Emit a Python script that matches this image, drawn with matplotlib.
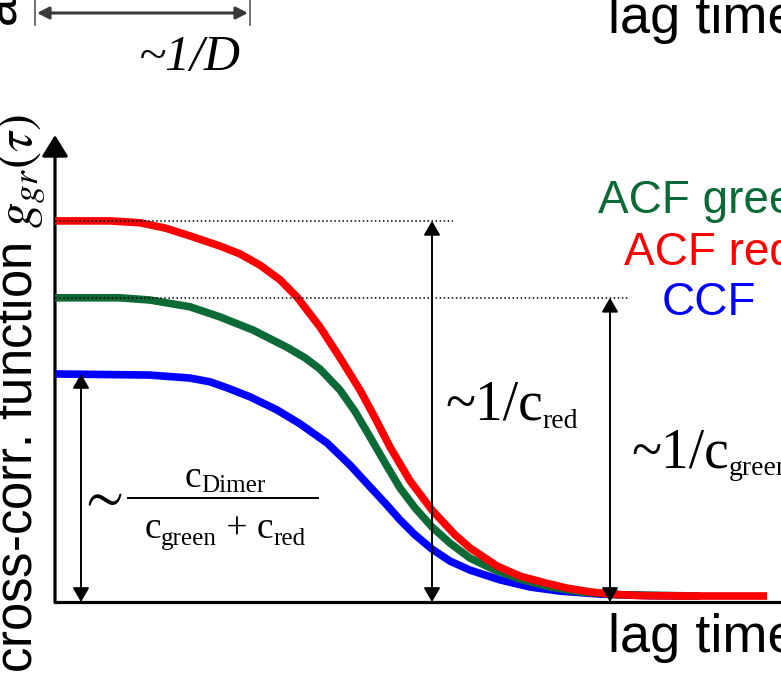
import matplotlib
matplotlib.use("Agg")
import matplotlib.pyplot as plt

plt.rcParams["font.family"] = ["Liberation Sans", "DejaVu Sans"]
plt.rcParams["mathtext.fontset"] = "stix"

# Correlation curves: lag time (arb. units) vs. correlation amplitude
tau_red = [0.00, 0.55, 0.85, 1.10, 1.35, 1.65, 1.85, 2.05, 2.25, 2.42, 2.65,
           2.85, 3.05, 3.20, 3.35, 3.55, 3.77, 4.00, 4.15, 4.42, 4.65, 4.90,
           5.12, 5.35, 5.55, 5.85, 6.25, 7.12]
g_red = [1.000, 1.000, 0.995, 0.981, 0.960, 0.933, 0.912, 0.882, 0.843, 0.797,
         0.717, 0.635, 0.549, 0.475, 0.397, 0.307, 0.229, 0.163, 0.128, 0.080,
         0.053, 0.035, 0.021, 0.011, 0.005, 0.001, 0.000, 0.000]

tau_green = [0.00, 0.65, 0.95, 1.35, 1.65, 1.98, 2.32, 2.50, 2.65, 2.85, 3.00,
             3.15, 3.30, 3.45, 3.60, 3.77, 3.95, 4.15, 4.40, 4.65, 4.95, 5.25,
             5.65, 6.45]
g_green = [0.795, 0.795, 0.789, 0.771, 0.744, 0.709, 0.663, 0.635, 0.605,
           0.549, 0.492, 0.424, 0.355, 0.288, 0.235, 0.184, 0.141, 0.101,
           0.069, 0.045, 0.024, 0.011, 0.003, 0.000]

tau_blue = [0.00, 0.95, 1.35, 1.55, 1.72, 1.95, 2.22, 2.45, 2.72, 2.95, 3.15,
            3.30, 3.45, 3.60, 3.77, 3.95, 4.15, 4.45, 4.75, 5.05, 5.45, 5.95,
            6.45]
g_blue = [0.592, 0.589, 0.581, 0.571, 0.555, 0.531, 0.496, 0.459, 0.408,
          0.349, 0.291, 0.248, 0.203, 0.163, 0.125, 0.093, 0.069, 0.043,
          0.024, 0.013, 0.005, 0.001, 0.000]

legend_labels = ["ACF green", "ACF red", "CCF"]

RED = "#ff0000"
GREEN = "#0b6a35"
BLUE = "#0000ff"

W, H = 781, 681
fig = plt.figure(figsize=(W / 100, H / 100), dpi=100)

# main panel
ax = fig.add_axes([55 / W, (H - 602) / H, (W - 55) / W, (602 - 135) / H])
ax.set_xlim(0, 7.26)
ax.set_ylim(-0.016, 1.229)
ax.set_xticks([])
ax.set_yticks([])
for side in ("top", "right", "left"):
    ax.spines[side].set_visible(False)
ax.spines["bottom"].set_linewidth(2.3)
ax.patch.set_visible(False)

y0, y1 = ax.get_ylim()
# y axis with arrow head
ax.annotate("", xy=(0, y1), xytext=(0, y0),
            arrowprops=dict(arrowstyle="-|>,head_length=0.65,head_width=0.4",
                            mutation_scale=20, lw=2.3, color="k",
                            shrinkA=0, shrinkB=0), annotation_clip=False)

lw_curve = 5.5
for tau, g, col in ((tau_blue, g_blue, BLUE), (tau_green, g_green, GREEN),
                    (tau_red, g_red, RED)):
    ax.plot(tau, g, color=col, lw=lw_curve, solid_capstyle="butt",
            solid_joinstyle="round", zorder=3)

# amplitude guides
ax.plot([0, 3.98], [g_red[0]] * 2, ls=":", color="k", lw=1.1, zorder=5)
ax.plot([0, 5.75], [g_green[0]] * 2, ls=":", color="k", lw=1.1, zorder=5)


def double_arrow(x, top):
    ax.annotate("", xy=(x, top), xytext=(x, y0),
                arrowprops=dict(arrowstyle="<|-|>,head_length=0.86,head_width=0.5",
                                mutation_scale=10, lw=1.4, color="k",
                                shrinkA=0, shrinkB=0), zorder=6)


double_arrow(3.77, g_red[0])
double_arrow(5.55, g_green[0])
double_arrow(0.26, g_blue[0])

# overlay in pixel units for labels
ov = fig.add_axes([0, 0, 1, 1])
ov.set_xlim(0, W)
ov.set_ylim(H, 0)
ov.axis("off")
ov.patch.set_visible(False)

renderer = fig.canvas.get_renderer()


def serif_run(pieces, x, y, ha="left"):
    """Draw a row of serif text pieces (text, size, dy) side by side."""
    arts = []
    cx = x
    for s, size, dy in pieces:
        t = ov.text(cx, y + dy, s, fontsize=size, family="Liberation Serif",
                    ha="left", va="baseline")
        cx += t.get_window_extent(renderer).width
        arts.append(t)
    if ha == "center":
        shift = (cx - x) / 2
        for t in arts:
            px, py = t.get_position()
            t.set_position((px - shift, py))
    return arts


# legend text
for lab, col, yb in zip(legend_labels, [GREEN, RED, BLUE], [213, 265, 315]):
    ov.text(709, yb, lab, color=col, fontsize=33, ha="center", va="baseline")

ov.text(608, 652, "lag time", fontsize=39, ha="left", va="baseline")
ov.text(608, 33, "lag time", fontsize=39, ha="left", va="baseline")

ov.text(32, 673, r"cross-corr. function $g_{gr}(\tau)$", fontsize=36.5,
        rotation=90, rotation_mode="anchor", ha="left", va="baseline")
ov.text(17, 27, r"auto-corr. function $g(\tau)$", fontsize=36.5,
        rotation=90, rotation_mode="anchor", ha="left", va="baseline")

# amplitude annotations
serif_run([("~1/c", 40, 0), ("red", 20, 8)], 445, 420)
serif_run([("~1/c", 40, 0), ("green", 20, 7)], 631, 468)

ov.text(77, 512, r"$\sim$", fontsize=40, ha="left", va="baseline")
serif_run([("c", 27, 0), ("Dimer", 18, 5)], 225, 487, ha="center")
ov.plot([128, 318], [498, 498], color="k", lw=1.4)
serif_run([("c", 27, 0), ("green", 18, 7), (" + ", 27, 0), ("c", 27, 0),
           ("red", 18, 7)], 225, 538, ha="center")

# diffusion-time span of the upper panel
ov.annotate("", xy=(248, 13), xytext=(37, 13),
            arrowprops=dict(arrowstyle="<|-|>,head_length=0.7,head_width=0.36",
                            mutation_scale=10, lw=2.2, color="#3a3a3a",
                            shrinkA=0, shrinkB=0))
ov.plot([35, 35], [0, 25], color="#555555", lw=1.2)
ov.plot([250, 250], [0, 25], color="#555555", lw=1.2)
ov.text(190, 70, "~1/D", fontsize=36, family="Liberation Serif", style="italic",
        ha="center", va="baseline")

fig.savefig("out.png", dpi=100)
